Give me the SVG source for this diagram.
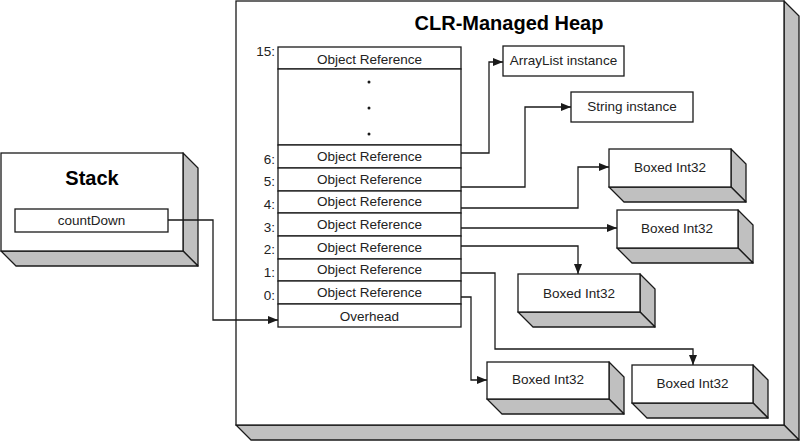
<svg xmlns="http://www.w3.org/2000/svg" width="800" height="442" viewBox="0 0 800 442">
<defs>
<style>
.face{fill:#fff;stroke:#1a1a1a;stroke-width:1.3}
.side{fill:#c0c0c0;stroke:#1a1a1a;stroke-width:1.3;stroke-linejoin:round}
.cell{fill:#fff;stroke:#1a1a1a;stroke-width:1.3}
.t{font-family:"Liberation Sans",Arial,sans-serif;font-size:13.5px;fill:#222;text-anchor:middle}
.lbl{font-family:"Liberation Sans",Arial,sans-serif;font-size:13.5px;fill:#222;text-anchor:end}
.title{font-family:"Liberation Sans",Arial,sans-serif;font-size:20px;font-weight:bold;fill:#000;text-anchor:middle}
.dot{fill:#1a1a1a}
.conn{fill:none;stroke:#1a1a1a;stroke-width:1.3;marker-end:url(#arrow)}
</style>
<marker id="arrow" markerUnits="userSpaceOnUse" markerWidth="10" markerHeight="8" refX="10" refY="4" orient="auto">
<path d="M0,0 L10,4 L0,8 z" fill="#1a1a1a"/>
</marker>
</defs>

<g id="heap">
<polygon class="side" points="784,1 799,16 799,440 784,425"/>
<polygon class="side" points="236,425 784,425 799,440 251,440"/>
<rect class="face" x="236" y="1" width="548" height="424"/>
<text class="title" x="509" y="30">CLR-Managed Heap</text>
</g>

<g id="stack">
<polygon class="side" points="183,153 198,168 198,266 183,251"/>
<polygon class="side" points="1,251 183,251 198,266 16,266"/>
<rect class="face" x="1" y="153" width="182" height="98"/>
<text class="title" x="92" y="185">Stack</text>
</g>

<g id="countDown">
<rect class="cell" x="15" y="209" width="153" height="23"/>
<text class="t" x="91.5" y="225">countDown</text>
</g>

<g id="array">
<rect class="cell" x="278" y="47" width="183" height="22"/>
<text class="t" x="369.5" y="64">Object Reference</text>
<rect class="cell" x="278" y="69" width="183" height="76"/>
<circle class="dot" cx="369" cy="82" r="1.5"/>
<circle class="dot" cx="369" cy="108" r="1.5"/>
<circle class="dot" cx="369" cy="134" r="1.5"/>
<rect class="cell" x="278" y="145" width="183" height="23"/>
<text class="t" x="369.5" y="161">Object Reference</text>
<rect class="cell" x="278" y="168" width="183" height="23"/>
<text class="t" x="369.5" y="184">Object Reference</text>
<rect class="cell" x="278" y="191" width="183" height="22"/>
<text class="t" x="369.5" y="206">Object Reference</text>
<rect class="cell" x="278" y="213" width="183" height="23"/>
<text class="t" x="369.5" y="229">Object Reference</text>
<rect class="cell" x="278" y="236" width="183" height="23"/>
<text class="t" x="369.5" y="252">Object Reference</text>
<rect class="cell" x="278" y="259" width="183" height="22"/>
<text class="t" x="369.5" y="274">Object Reference</text>
<rect class="cell" x="278" y="281" width="183" height="23"/>
<text class="t" x="369.5" y="297">Object Reference</text>
<rect class="cell" x="278" y="304" width="183" height="23"/>
<text class="t" x="369.5" y="321">Overhead</text>
<text class="lbl" x="275" y="56">15:</text>
<text class="lbl" x="275" y="164">6:</text>
<text class="lbl" x="275" y="186">5:</text>
<text class="lbl" x="275" y="209">4:</text>
<text class="lbl" x="275" y="232">3:</text>
<text class="lbl" x="275" y="254">2:</text>
<text class="lbl" x="275" y="277">1:</text>
<text class="lbl" x="275" y="300">0:</text>
</g>

<g id="arraylist">
<rect class="cell" x="503" y="46" width="121" height="30"/>
<text class="t" x="563.5" y="65">ArrayList instance</text>
</g>

<g id="string">
<rect class="cell" x="571" y="92" width="122" height="30"/>
<text class="t" x="632" y="111">String instance</text>
</g>

<g id="boxed1">
<polygon class="side" points="731,149 746,164 746,202 731,187"/>
<polygon class="side" points="609,187 731,187 746,202 624,202"/>
<rect class="face" x="609" y="149" width="122" height="38"/>
<text class="t" x="670" y="172">Boxed Int32</text>
</g>

<g id="boxed2">
<polygon class="side" points="738,210 753,225 753,263 738,248"/>
<polygon class="side" points="617,248 738,248 753,263 632,263"/>
<rect class="face" x="617" y="210" width="121" height="38"/>
<text class="t" x="677" y="233">Boxed Int32</text>
</g>

<g id="boxed3">
<polygon class="side" points="640,274 655,289 655,327 640,312"/>
<polygon class="side" points="518,312 640,312 655,327 533,327"/>
<rect class="face" x="518" y="274" width="122" height="38"/>
<text class="t" x="579" y="298">Boxed Int32</text>
</g>

<g id="boxed4">
<polygon class="side" points="609,362 624,377 624,414 609,399"/>
<polygon class="side" points="487,399 609,399 624,414 502,414"/>
<rect class="face" x="487" y="362" width="122" height="37"/>
<text class="t" x="548" y="384">Boxed Int32</text>
</g>

<g id="boxed5">
<polygon class="side" points="753,365 768,380 768,418 753,403"/>
<polygon class="side" points="632,403 753,403 768,418 647,418"/>
<rect class="face" x="632" y="365" width="121" height="38"/>
<text class="t" x="692.5" y="388">Boxed Int32</text>
</g>

<g id="connectors">
<path class="conn" d="M168,220 H213 V320 H278"/>
<path class="conn" d="M461,153 H489 V62 H503"/>
<path class="conn" d="M461,187 H525 V107 H571"/>
<path class="conn" d="M461,208 H578 V167 H609"/>
<path class="conn" d="M461,228 H617"/>
<path class="conn" d="M461,246 H578 V274"/>
<path class="conn" d="M461,273 H495 V349 H693 V365"/>
<path class="conn" d="M461,297 H471 V380 H487"/>
</g>
</svg>
